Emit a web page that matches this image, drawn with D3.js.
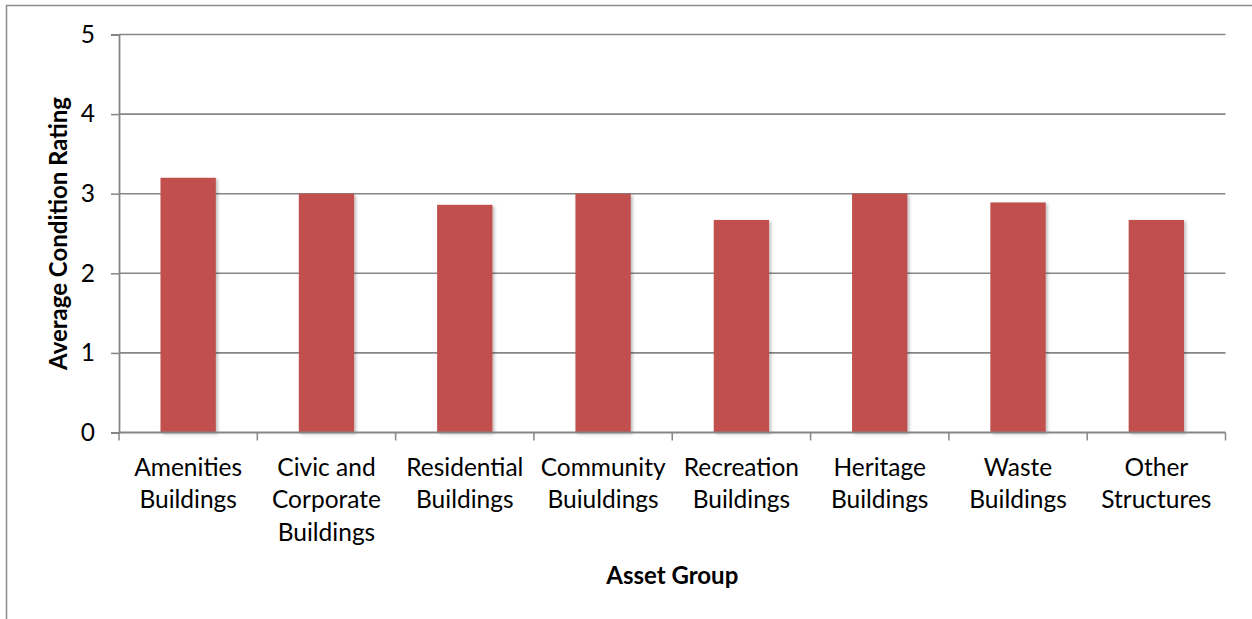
<!DOCTYPE html>
<html>
<head>
<meta charset="utf-8">
<script src="https://cdn.jsdelivr.net/npm/d3@7"></script>
<style>
  html, body { margin: 0; padding: 0; background: #fff; }
  svg { display: block; }
  text { font-family: Lato, "Open Sans", sans-serif; fill: #000; }
</style>
</head>
<body>
<svg id="chart" width="1252" height="619"></svg>
<script>
// Asset groups and their average condition ratings
const categories = [
  "Amenities Buildings",
  "Civic and Corporate Buildings",
  "Residential Buildings",
  "Community Buiuldings",
  "Recreation Buildings",
  "Heritage Buildings",
  "Waste Buildings",
  "Other Structures"
];
const labelLines = [
  ["Amenities", "Buildings"],
  ["Civic and", "Corporate", "Buildings"],
  ["Residential", "Buildings"],
  ["Community", "Buiuldings"],
  ["Recreation", "Buildings"],
  ["Heritage", "Buildings"],
  ["Waste", "Buildings"],
  ["Other", "Structures"]
];
const ratings = [3.2, 3.0, 2.86, 3.0, 2.67, 3.0, 2.89, 2.67];
const yTicks = [0, 1, 2, 3, 4, 5];
const xTitle = "Asset Group";
const yTitle = "Average Condition Rating";

const svg = d3.select("#chart");
const plot = { left: 119, right: 1225.5, top: 34.5, bottom: 432.5 };
const axisColor = "#868686";
const barColor = "#C0504D";
const fontSize = 24.5;
const titleSize = 24;

// chart frame
svg.append("rect")
  .attr("x", 6.5).attr("y", 5.5)
  .attr("width", 1300).attr("height", 700)
  .attr("fill", "none").attr("stroke", "#8c8c8c").attr("stroke-width", 1.5);

const x = d3.scaleBand().domain(categories).range([plot.left, plot.right]).paddingInner(0.6).paddingOuter(0.3);
const xb = d3.scaleBand().domain(categories).range([plot.left, plot.right]);
const y = d3.scaleLinear().domain([0, 5]).range([plot.bottom, plot.top]);

// bar shadow
const defs = svg.append("defs");
const f = defs.append("filter").attr("id", "shadow").attr("x", "-20%").attr("y", "-20%").attr("width", "140%").attr("height", "140%");
f.append("feDropShadow").attr("dx", 2).attr("dy", 1.5).attr("stdDeviation", 1.5)
  .attr("flood-color", "#000").attr("flood-opacity", 0.25);

// gridlines + y axis
const yAxis = d3.axisLeft(y).tickValues(yTicks).tickSize(8).tickPadding(16).tickFormat(d3.format("d"));
const gy = svg.append("g").attr("transform", `translate(${plot.left},0)`).call(yAxis);
gy.select(".domain").attr("stroke", axisColor).attr("stroke-width", 1.8);
gy.selectAll(".tick line").attr("stroke", axisColor).attr("stroke-width", 1.5);
gy.selectAll(".tick text").attr("font-size", fontSize).attr("font-family", "Lato, sans-serif").attr("fill", "#000");

svg.append("g").selectAll("line").data(yTicks.filter(d => d > 0)).join("line")
  .attr("x1", plot.left).attr("x2", plot.right)
  .attr("y1", d => y(d)).attr("y2", d => y(d))
  .attr("stroke", axisColor).attr("stroke-width", 1.6);

// bars
svg.append("g").selectAll("rect").data(ratings).join("rect")
  .attr("x", (d, i) => x(categories[i]))
  .attr("width", x.bandwidth())
  .attr("y", d => y(d))
  .attr("height", d => y(0) - y(d))
  .attr("fill", barColor)
  .attr("filter", "url(#shadow)");

// x axis with ticks at category boundaries
const gx = svg.append("g");
gx.append("line").attr("x1", plot.left).attr("x2", plot.right)
  .attr("y1", plot.bottom).attr("y2", plot.bottom)
  .attr("stroke", axisColor).attr("stroke-width", 1.8);
const bounds = categories.map(c => xb(c)).concat([plot.right]);
gx.selectAll("line.tk").data(bounds).join("line").attr("class", "tk")
  .attr("x1", d => d).attr("x2", d => d)
  .attr("y1", plot.bottom).attr("y2", plot.bottom + 8)
  .attr("stroke", axisColor).attr("stroke-width", 1.5);

// category labels
const lab = svg.append("g").selectAll("text").data(labelLines).join("text")
  .attr("text-anchor", "middle")
  .attr("font-size", fontSize)
  .attr("x", (d, i) => xb(categories[i]) + xb.bandwidth() / 2)
  .attr("y", 475.5);
lab.selectAll("tspan").data(d => d).join("tspan")
  .attr("x", function() { return this.parentNode.getAttribute("x"); })
  .attr("dy", (d, j) => j === 0 ? 0 : 32.5)
  .text(d => d);

// axis titles
svg.append("text").attr("x", (plot.left + plot.right) / 2).attr("y", 584)
  .attr("text-anchor", "middle").attr("font-weight", "bold").attr("font-size", titleSize)
  .text(xTitle);
svg.append("text").attr("transform", `translate(67,${(plot.top + plot.bottom) / 2}) rotate(-90)`)
  .attr("text-anchor", "middle").attr("font-weight", "bold").attr("font-size", titleSize)
  .text(yTitle);
</script>
</body>
</html>
